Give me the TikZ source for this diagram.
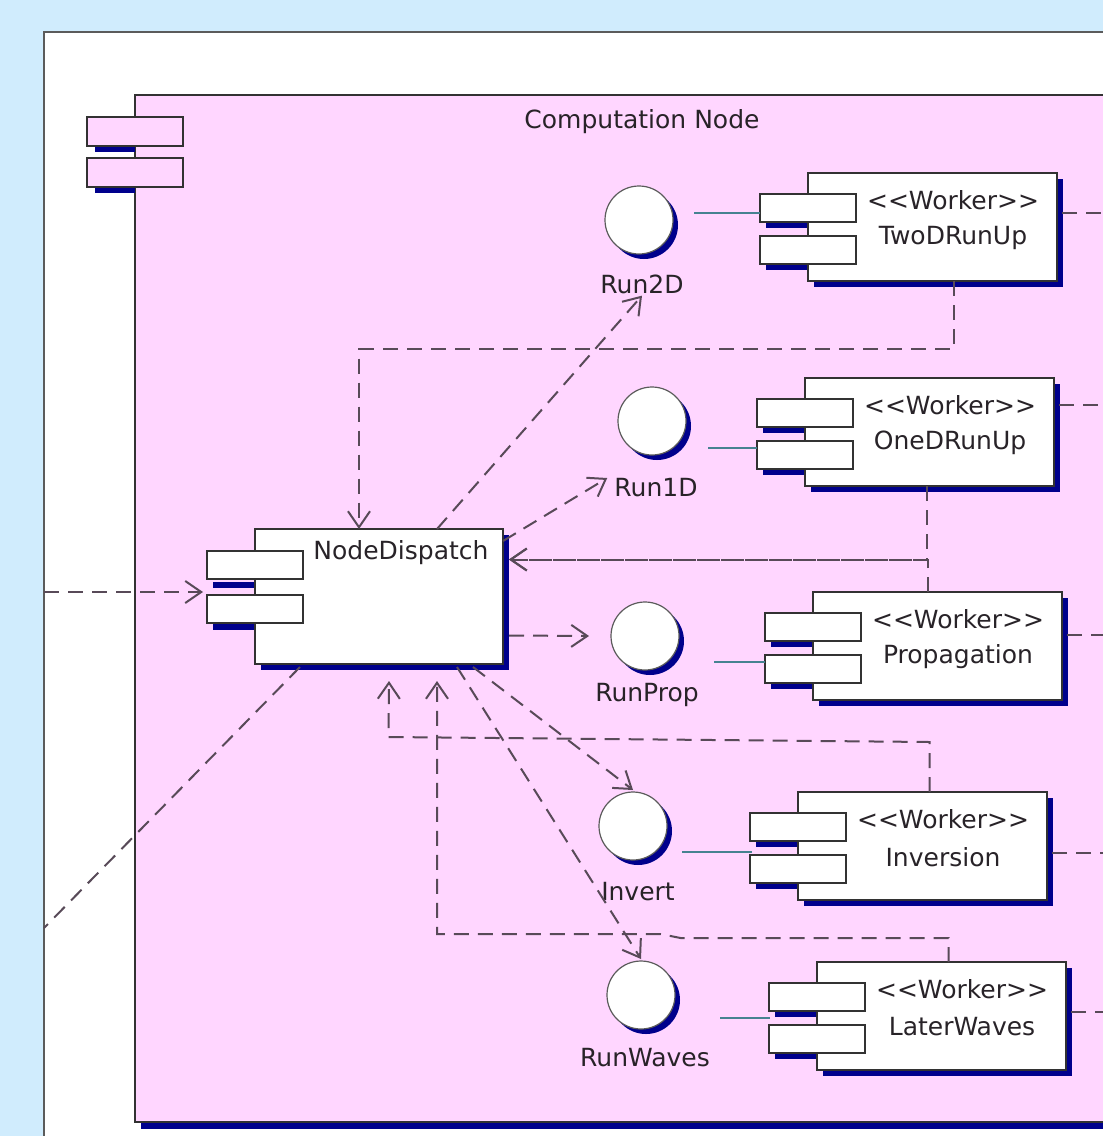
\documentclass[tikz,border=0pt]{standalone}
\usepackage{fontspec}
\setmainfont{DejaVu Sans}
\usetikzlibrary{arrows.meta,shadows}
\definecolor{bgblue}{RGB}{208,236,253}
\definecolor{pkpink}{RGB}{255,214,255}
\definecolor{navy}{RGB}{0,0,140}
\definecolor{depcol}{RGB}{88,74,88}
\definecolor{ifcol}{RGB}{70,130,145}
\definecolor{bord}{RGB}{50,50,50}
\definecolor{txtcol}{RGB}{40,35,40}
\tikzset{
  mainbox/.style={draw=bord, line width=2pt, fill=white, inner sep=0pt, outer sep=0pt,
    drop shadow={shadow xshift=6pt, shadow yshift=-6pt, fill=navy, opacity=1}},
  smallbox/.style={draw=bord, line width=2pt, fill=white, inner sep=0pt, outer sep=0pt,
    minimum width=96pt, minimum height=28pt},
  iface/.style={circle, draw=bord!80, line width=1.2pt, fill=white, minimum size=68pt,
    inner sep=0pt, outer sep=0pt,
    drop shadow={shadow xshift=5pt, shadow yshift=-5pt, fill=navy, opacity=1}},
  lbl/.style={font=\fontsize{25pt}{30pt}\selectfont, text=txtcol, inner sep=1pt},
  dep/.style={draw=depcol, line width=2pt, dash pattern=on 15pt off 9pt},
  arr/.style={-{Straight Barb[length=16pt,width=22pt]}},
  ifline/.style={draw=ifcol, line width=1.5pt},
}
\newcommand\workerbox[4]{% name, x, y, text
  \fill[navy] (#2-42,#3+49) rectangle (#2,#3+55);
  \fill[navy] (#2-42,#3+91) rectangle (#2,#3+97);
  \node[mainbox, minimum width=249pt, minimum height=108pt, anchor=north west] (#1) at (#2,#3) {};
  \node[smallbox, anchor=north west] (#1-a) at (#2-48,#3+21) {};
  \node[smallbox, anchor=north west] (#1-b) at (#2-48,#3+63) {};
  \node[lbl] (#1-st) at (#2+145,#3+27) {<\kern0pt<Worker>\kern0pt>};
  \node[lbl] (#1-t) at (#2+145,#3+65) {#4};
}
\begin{document}
\begin{tikzpicture}[x=1pt,y=-1pt]
\useasboundingbox (0,0) rectangle (1103,1136);
\clip (0,0) rectangle (1103,1136);
\fill[bgblue] (0,0) rectangle (1103,1136);
% white panel
\fill[white] (44,32) rectangle (1110,1140);
\draw[bord!80, line width=2pt] (44,1140) -- (44,32) -- (1110,32);
% package
\fill[navy] (141,1122) rectangle (1110,1129);
\filldraw[fill=pkpink, draw=bord, line width=2pt] (1110,95) -- (135,95) -- (135,1122) -- (1110,1122);
% package icon
\fill[navy] (95,146) rectangle (135,152);
\fill[navy] (95,187) rectangle (135,193);
\filldraw[fill=pkpink, draw=bord, line width=2pt] (87,117) rectangle (183,146);
\filldraw[fill=pkpink, draw=bord, line width=2pt] (87,158) rectangle (183,187);
\node[lbl] (pkgname) at (642,122) {Computation Node};

% NodeDispatch
\fill[navy] (213,582) rectangle (255,588);
\fill[navy] (213,624) rectangle (255,630);
\node[mainbox, minimum width=248pt, minimum height=135pt, anchor=north west] (nd) at (255,529) {};
\node[smallbox, anchor=north west] (nd-a) at (207,551) {};
\node[smallbox, anchor=north west] (nd-b) at (207,595) {};
\node[lbl, anchor=center] (nd-t) at (401,553) {NodeDispatch};

% workers
\workerbox{two}{808}{173}{TwoDRunUp}
\workerbox{one}{805}{378}{OneDRunUp}
\workerbox{prop}{813}{592}{Propagation}
\workerbox{inv}{798}{792}{Inversion}
\workerbox{lw}{817}{962}{LaterWaves}

% interfaces
\node[iface] (run2d) at (639,220) {};
\node[lbl] (run2dl) at (642,284) {Run2D};
\node[iface] (run1d) at (652,421) {};
\node[lbl] (run1dl) at (656,488) {Run1D};
\node[iface] (runprop) at (645,636) {};
\node[lbl] (runpropl) at (647,695) {RunProp};
\node[iface] (invert) at (633,826) {};
\node[lbl] (invertl) at (638,892) {Invert};
\node[iface] (runwaves) at (641,995) {};
\node[lbl] (runwavesl) at (645,1058) {RunWaves};

% interface lines
\draw[ifline] ([xshift=21pt,yshift=7pt]run2d.east) -- +(66,0);
\draw[ifline] ([xshift=22pt,yshift=-27pt]run1d.east) -- +(49,0);
\draw[ifline] ([xshift=35pt,yshift=-26pt]runprop.east) -- +(51,0);
\draw[ifline] ([xshift=15pt,yshift=-26pt]invert.east) -- +(70,0);
\draw[ifline] ([xshift=45pt,yshift=-23pt]runwaves.east) -- +(50,0);

% right stubs
\draw[dep] ([xshift=5pt,yshift=14pt]two.east) -- ++(60,0);
\draw[dep] ([xshift=5pt,yshift=27pt]one.east) -- ++(60,0);
\draw[dep] ([xshift=5pt,yshift=11pt]prop.east) -- ++(60,0);
\draw[dep] ([xshift=5pt,yshift=-7pt]inv.east) -- ++(60,0);
\draw[dep] ([xshift=5pt,yshift=4pt]lw.east) -- ++(60,0);

% external connectors
\coordinate (leftin) at (44,592);
\coordinate (leftout) at (44,928);
\draw[dep,arr] (leftin) -- ([xshift=-4pt,yshift=-13pt]nd-a.south west);
\draw[dep] ([xshift=45pt,yshift=-3pt]nd.south west) -- (leftout);

% dependencies
\draw[dep,arr] ([xshift=21pt]two.south) -- ++(0,68) -| ([xshift=-20pt]nd.north);
\draw[dep,arr] ([xshift=58pt]nd.north) -- ([yshift=-1pt]run2dl.south);
\draw[dep,arr] ([yshift=-12pt]nd.north east) -- ([xshift=-6pt,yshift=10pt]run1dl.west);
\draw[dep,arr] ([xshift=-3pt]one.south) |- ([xshift=6pt,yshift=37pt]nd.east);
\draw[dep,arr] ([xshift=-10pt]prop.north) |- ([xshift=6pt,yshift=37pt]nd.east);
\draw[dep,arr] ([xshift=6pt,yshift=-39pt]nd.east) -- ([xshift=-22pt]runprop.west);
\draw[dep,arr] ([xshift=7pt]inv.north) -- ++(0,-50) -- ++(-541,-5) -- ([xshift=134pt,yshift=-17pt]nd.south west);
\draw[dep,arr] ([xshift=7pt]lw.north) -- ++(0,-24) -- ++(-268,0) -- ++(-20,-4) -| ([xshift=182pt,yshift=-17pt]nd.south west);
\draw[dep,arr] ([xshift=218pt,yshift=-3pt]nd.south west) -- ([yshift=2pt]invert.north);
\draw[dep,arr] ([xshift=202pt,yshift=-3pt]nd.south west) -- ([yshift=2pt]runwaves.north);
\end{tikzpicture}
\end{document}
